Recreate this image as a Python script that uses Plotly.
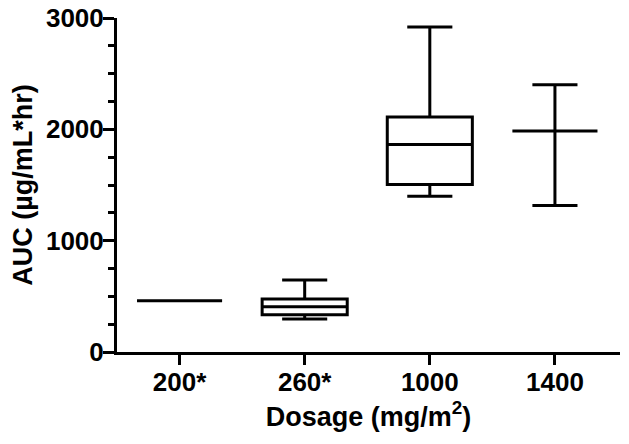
import plotly.graph_objects as go

dosage = ["200*", "260*", "1000", "1400"]
lower_fence = [460, 297, 1400, 1316]
q1_vals = [460, 335, 1505, 1984]
median_vals = [460, 407, 1864, 1984]
q3_vals = [460, 477, 2111, 1984]
upper_fence = [460, 647, 2919, 2401]
y_ticks = [0, 1000, 2000, 3000]

FONT = "Liberation Sans, Arial, sans-serif"

fig = go.Figure()
fig.add_trace(go.Box(
    x=dosage,
    q1=q1_vals, median=median_vals, q3=q3_vals,
    lowerfence=lower_fence, upperfence=upper_fence,
    width=0.68, whiskerwidth=0.53,
    line=dict(color="black", width=3),
    fillcolor="rgba(255,255,255,0)",
    boxpoints=False, showlegend=False, hoverinfo="skip",
))

fig.update_layout(
    width=629, height=444,
    margin=dict(l=117, r=9, t=18, b=92),
    paper_bgcolor="white", plot_bgcolor="white",
    font=dict(family=FONT, color="black"),
    xaxis=dict(
        type="category", range=[-0.5, 3.52],
        showline=True, linecolor="black", linewidth=3,
        ticks="outside", ticklen=10, tickwidth=3, tickcolor="black",
        tickfont=dict(family=FONT, size=26, weight="bold", color="black"),
        ticklabelstandoff=-5,
        title=dict(text="Dosage (mg/m<sup>2</sup>)", standoff=10,
                   font=dict(family=FONT, size=27, weight="bold", color="black")),
        showgrid=False, zeroline=False, automargin=False,
        ticklabeloverflow="allow",
    ),
    yaxis=dict(
        range=[0, 3000], tickvals=y_ticks,
        showline=True, linecolor="black", linewidth=3,
        ticks="outside", ticklen=11, tickwidth=3, tickcolor="black",
        tickfont=dict(family=FONT, size=26, weight="bold", color="black"),
        ticklabelstandoff=-6,
        minor=dict(dtick=250, ticks="outside", ticklen=6, tickwidth=3, tickcolor="black", showgrid=False),
        title=dict(text="AUC (µg/mL*hr)", standoff=6,
                   font=dict(family=FONT, size=27, weight="bold", color="black")),
        showgrid=False, zeroline=False, automargin=False,
        ticklabeloverflow="allow",
    ),
)

fig.write_html(
    "out.html",
    config={"displayModeBar": False},
    post_script="document.body.style.margin='0';document.body.style.padding='0';",
)
